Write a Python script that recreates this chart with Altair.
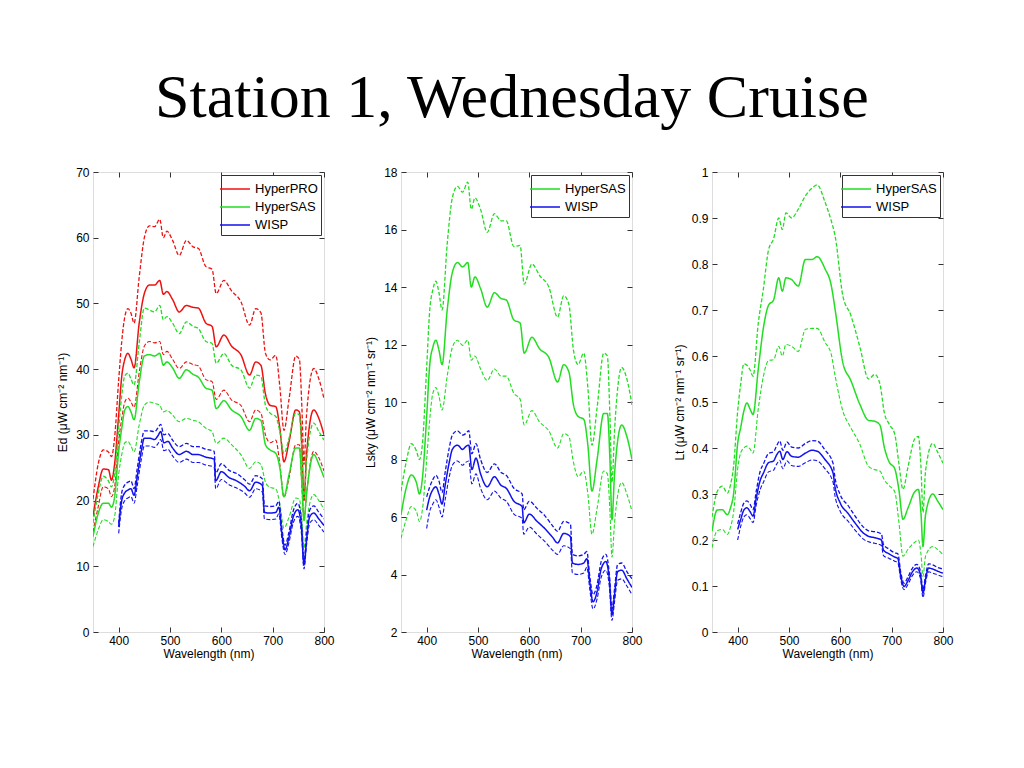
import altair as alt
import pandas as pd

TITLE = "Station 1, Wednesday Cruise"

# Wavelength grids (nm)
WL = [350, 360, 370, 380, 386, 392, 400, 406, 412, 418, 424, 430, 440, 450, 460, 470, 480, 487, 494, 505,
      518, 532, 545, 555, 570, 582, 590, 605, 620, 638, 655, 667, 677, 686, 695, 706, 714, 722, 732, 745,
      752, 757, 761, 766, 780, 790, 800]
WLW = [400, 406, 412, 418, 424, 430, 436, 444, 450, 460, 470, 476, 482, 488, 496, 505, 518, 532, 545, 555,
       570, 586, 589, 600, 615, 630, 645, 655, 667, 680, 684, 695, 706, 712, 718, 724, 732, 740, 749, 756,
       761, 766, 772, 780, 790, 800]

# ---- Panel 1: Ed ----
ed_pro_hi = [20.2, 25.5, 27.7, 27.4, 26.7, 29.5, 38.3, 44.2, 48.0, 49.2, 48.5, 47.0, 54.0, 60.0, 61.8, 61.7, 62.8, 60.0, 61.0, 59.6,
             57.3, 59.6, 58.6, 58.4, 55.6, 55.2, 51.5, 53.5, 51.9, 50.3, 46.7, 49.2, 48.6, 42.4, 41.4, 42.1, 37.3, 30.7, 35.5, 42.0,
             41.5, 34.0, 25.5, 33.0, 40.1, 38.5, 35.5]
ed_pro = [17.6, 22.0, 24.8, 24.7, 23.1, 25.5, 33.0, 38.9, 41.5, 42.4, 41.5, 40.2, 47.0, 51.5, 52.8, 52.8, 53.5, 51.4, 51.8, 50.6,
          48.7, 49.7, 49.4, 49.3, 47.0, 46.5, 43.4, 45.2, 43.5, 42.2, 39.1, 41.1, 40.6, 36.2, 34.5, 34.3, 31.0, 25.9, 29.0, 33.8,
          33.5, 28.0, 20.0, 27.0, 33.8, 32.5, 30.0]
ed_pro_lo = [15.2, 19.0, 22.1, 21.8, 20.6, 22.0, 29.0, 32.5, 35.0, 35.6, 35.0, 34.2, 39.5, 43.5, 44.2, 44.0, 44.2, 42.2, 42.7, 41.5,
             40.1, 41.1, 40.7, 40.5, 38.4, 38.1, 35.4, 36.8, 35.3, 34.5, 32.0, 33.8, 33.3, 30.0, 28.8, 29.2, 25.5, 20.5, 23.5, 28.5,
             28.5, 22.0, 17.0, 21.0, 27.5, 26.5, 24.5]
ed_sas_hi = [16.6, 21.0, 23.7, 23.0, 22.1, 24.0, 31.0, 36.0, 39.0, 39.4, 38.5, 37.6, 44.0, 49.3, 49.0, 48.7, 49.7, 47.5, 48.0, 47.0,
             45.4, 47.2, 46.5, 46.2, 44.2, 43.9, 40.9, 42.4, 40.6, 39.9, 37.1, 39.1, 38.9, 34.5, 33.3, 32.8, 30.5, 27.2, 29.5, 33.3,
             33.0, 27.0, 20.3, 26.0, 31.8, 30.5, 29.2]
ed_sas = [14.5, 18.0, 19.6, 19.6, 19.0, 20.5, 27.5, 31.0, 33.8, 34.3, 33.5, 32.3, 38.0, 42.0, 42.2, 42.0, 42.4, 40.6, 41.1, 40.2,
          38.6, 39.9, 39.2, 38.8, 37.1, 36.8, 34.0, 35.2, 33.8, 32.8, 30.7, 32.5, 32.2, 28.5, 27.7, 27.2, 25.0, 20.6, 24.0, 28.0,
          28.0, 22.5, 17.0, 21.0, 27.0, 25.5, 23.5]
ed_sas_lo = [13.0, 15.5, 17.1, 16.8, 16.4, 17.5, 24.0, 27.0, 28.8, 29.0, 28.3, 27.4, 31.5, 34.5, 35.0, 34.8, 34.5, 33.5, 33.7, 33.0,
             32.0, 32.5, 32.2, 32.0, 31.0, 30.5, 28.7, 29.5, 28.5, 27.0, 24.9, 25.9, 25.5, 22.8, 22.0, 21.8, 19.5, 15.8, 17.5, 20.4,
             20.2, 17.0, 12.8, 16.5, 20.9, 20.0, 18.6]
ed_wisp_hi = [16.5, 21.2, 22.4, 22.8, 23.0, 21.8, 24.8, 28.8, 30.6, 30.6, 30.5, 31.0, 31.6, 30.0, 30.2, 29.2, 28.2, 28.7, 28.2, 28.2,
              27.8, 27.5, 24.2, 25.6, 24.6, 24.1, 23.2, 22.5, 23.8, 23.3, 19.2, 19.1, 19.2, 19.9, 15.8, 13.2, 15.3, 18.4, 19.6, 17.0,
              10.7, 14.8, 18.5, 19.2, 18.2, 17.2]
ed_wisp = [16.0, 20.0, 21.2, 21.6, 21.8, 20.8, 23.5, 27.5, 29.5, 29.5, 29.3, 29.8, 30.5, 28.8, 29.0, 28.0, 27.0, 27.5, 27.0, 27.0,
           26.6, 26.3, 23.0, 24.4, 23.5, 23.0, 22.2, 21.5, 22.8, 22.3, 18.2, 18.1, 18.2, 19.0, 15.0, 12.5, 14.5, 17.5, 18.6, 16.0,
           10.2, 14.0, 17.5, 18.1, 17.2, 16.2]
ed_wisp_lo = [15.0, 18.8, 20.0, 20.4, 20.6, 19.6, 22.2, 26.2, 28.3, 28.3, 28.1, 28.6, 29.3, 27.6, 27.8, 26.8, 25.8, 26.3, 25.8, 25.8,
              25.4, 25.1, 21.8, 23.2, 22.4, 21.9, 21.2, 20.5, 21.8, 21.3, 17.2, 17.1, 17.2, 18.0, 14.2, 11.8, 13.7, 16.6, 17.6, 15.0,
              9.6, 13.2, 16.5, 17.1, 16.2, 15.2]

# ---- Panel 2: Lsky ----
lsky_sas_hi = [6.9, 7.9, 8.55, 8.3, 8.0, 8.6, 11.2, 13.2, 13.9, 14.2, 13.8, 13.2, 15.5, 17.1, 17.5, 17.3, 17.65, 16.7, 17.1, 16.7,
               15.9, 16.55, 16.3, 16.3, 15.4, 15.45, 14.1, 14.8, 14.4, 14.0, 12.95, 13.7, 13.4, 11.8, 11.3, 11.7, 10.5, 8.5, 9.8, 11.7,
               11.6, 9.5, 7.2, 9.0, 11.2, 10.8, 9.9]
lsky_sas = [6.07, 7.0, 7.46, 7.2, 6.8, 7.4, 9.5, 11.3, 11.9, 12.15, 11.8, 11.3, 13.2, 14.5, 14.85, 14.7, 14.85, 14.0, 14.35, 13.95,
            13.3, 13.8, 13.6, 13.55, 12.85, 12.75, 11.7, 12.25, 11.85, 11.55, 10.7, 11.3, 11.05, 9.9, 9.5, 9.4, 8.5, 6.9, 8.0, 9.6,
            9.6, 8.0, 5.9, 7.5, 9.2, 8.8, 8.0]
lsky_sas_lo = [5.26, 5.9, 6.36, 6.2, 5.84, 6.3, 8.0, 9.4, 10.3, 10.5, 10.2, 9.72, 10.9, 11.9, 12.15, 11.97, 12.15, 11.45, 11.6, 11.15,
               10.75, 11.15, 10.9, 10.9, 10.3, 10.1, 9.2, 9.7, 9.3, 9.0, 8.4, 8.9, 8.8, 7.9, 7.4, 7.6, 6.8, 5.4, 6.3, 7.6,
               7.5, 6.2, 4.6, 5.8, 7.2, 6.8, 6.2]
lsky_wisp_hi = [6.7, 7.05, 7.3, 7.45, 7.25, 6.85, 7.55, 8.4, 8.85, 9.0, 8.85, 8.9, 9.0, 8.2, 8.55, 8.0, 7.55, 7.85, 7.55, 7.45,
                7.0, 6.8, 6.25, 6.55, 6.3, 6.05, 5.7, 5.5, 5.85, 5.75, 4.7, 4.65, 4.7, 4.8, 3.9, 3.3, 3.65, 4.45, 4.7, 4.0,
                2.8, 3.5, 4.35, 4.4, 4.1, 3.85]
lsky_wisp = [6.24, 6.7, 6.95, 7.05, 6.8, 6.45, 7.1, 7.9, 8.35, 8.5, 8.35, 8.45, 8.5, 7.65, 8.05, 7.5, 7.05, 7.4, 7.1, 7.0,
             6.55, 6.36, 5.8, 6.1, 5.85, 5.6, 5.3, 5.1, 5.43, 5.32, 4.4, 4.35, 4.4, 4.55, 3.7, 3.05, 3.4, 4.2, 4.45, 3.8,
             2.6, 3.3, 4.1, 4.15, 3.85, 3.55]
lsky_wisp_lo = [5.6, 6.2, 6.45, 6.6, 6.35, 6.0, 6.6, 7.4, 7.8, 7.95, 7.8, 7.9, 7.95, 7.15, 7.5, 7.0, 6.6, 6.9, 6.65, 6.55,
                6.1, 5.95, 5.4, 5.65, 5.4, 5.15, 4.85, 4.7, 5.0, 4.9, 4.05, 4.0, 4.05, 4.25, 3.45, 2.8, 3.15, 3.9, 4.15, 3.55,
                2.4, 3.05, 3.8, 3.85, 3.6, 3.3]

# ---- Panel 3: Lt ----
lt_sas_hi = [0.25, 0.305, 0.317, 0.302, 0.32, 0.36, 0.48, 0.54, 0.583, 0.58, 0.57, 0.556, 0.67, 0.745, 0.83, 0.855, 0.9, 0.875, 0.911, 0.9,
             0.919, 0.948, 0.965, 0.972, 0.935, 0.895, 0.86, 0.73, 0.69, 0.62, 0.55, 0.56, 0.54, 0.475, 0.452, 0.43, 0.367, 0.31, 0.36, 0.42,
             0.425, 0.36, 0.26, 0.35, 0.41, 0.39, 0.367]
lt_sas = [0.219, 0.265, 0.266, 0.255, 0.27, 0.3, 0.41, 0.445, 0.48, 0.498, 0.485, 0.473, 0.57, 0.66, 0.71, 0.722, 0.77, 0.741, 0.77, 0.766,
          0.752, 0.81, 0.81, 0.816, 0.79, 0.755, 0.7, 0.585, 0.548, 0.495, 0.46, 0.458, 0.45, 0.4, 0.37, 0.355, 0.31, 0.245, 0.27, 0.305,
          0.31, 0.26, 0.186, 0.255, 0.3, 0.284, 0.266]
lt_sas_lo = [0.183, 0.22, 0.223, 0.212, 0.228, 0.26, 0.355, 0.39, 0.4, 0.404, 0.398, 0.389, 0.484, 0.555, 0.59, 0.592, 0.621, 0.6, 0.625, 0.621,
             0.61, 0.658, 0.66, 0.66, 0.63, 0.605, 0.556, 0.48, 0.445, 0.408, 0.36, 0.353, 0.35, 0.33, 0.318, 0.305, 0.24, 0.165, 0.18, 0.195,
             0.2, 0.17, 0.121, 0.165, 0.186, 0.179, 0.168]
lt_wisp_hi = [0.235, 0.26, 0.28, 0.285, 0.278, 0.266, 0.305, 0.35, 0.365, 0.388, 0.392, 0.405, 0.415, 0.395, 0.413, 0.402, 0.4, 0.41, 0.416, 0.415,
              0.396, 0.366, 0.34, 0.298, 0.275, 0.25, 0.228, 0.22, 0.218, 0.213, 0.19, 0.18, 0.172, 0.17, 0.128, 0.106, 0.12, 0.138, 0.147, 0.133,
              0.092, 0.123, 0.148, 0.146, 0.14, 0.137]
lt_wisp = [0.223, 0.245, 0.265, 0.27, 0.262, 0.252, 0.29, 0.33, 0.345, 0.368, 0.372, 0.385, 0.393, 0.375, 0.392, 0.382, 0.38, 0.389, 0.395, 0.393,
           0.375, 0.345, 0.32, 0.28, 0.258, 0.235, 0.215, 0.208, 0.205, 0.2, 0.178, 0.17, 0.163, 0.16, 0.12, 0.099, 0.112, 0.13, 0.139, 0.125,
           0.085, 0.115, 0.139, 0.137, 0.132, 0.128]
lt_wisp_lo = [0.2, 0.23, 0.25, 0.255, 0.247, 0.238, 0.275, 0.31, 0.325, 0.348, 0.352, 0.365, 0.373, 0.355, 0.372, 0.362, 0.36, 0.368, 0.374, 0.372,
              0.355, 0.325, 0.3, 0.262, 0.241, 0.22, 0.202, 0.196, 0.193, 0.188, 0.166, 0.16, 0.154, 0.15, 0.112, 0.092, 0.104, 0.122, 0.131, 0.117,
              0.075, 0.107, 0.131, 0.128, 0.124, 0.12]

COLORS = {"HyperPRO": "#ee1111", "HyperSAS": "#22dd22", "WISP": "#1111ee"}
FONT = "Liberation Sans"


def frame(wl, vals, inst, stat):
    return pd.DataFrame({"wl": wl, "v": vals, "inst": inst, "stat": stat,
                         "series": inst + "-" + stat})


def axis_common(**kw):
    base = dict(grid=False, domain=False, offset=-5, tickSize=5, tickColor="#333333", tickWidth=1,
                labelFont=FONT, labelFontSize=12, labelColor="black", titleFont=FONT,
                titleFontSize=12, titleFontWeight="normal", titleColor="black")
    base.update(kw)
    return alt.Axis(**base)


def panel(frames, insts, ydom, yvals, ytitle, tpad):
    df = pd.concat(frames, ignore_index=True)
    xs = alt.Scale(domain=[350, 800], nice=False, zero=False)
    ys = alt.Scale(domain=ydom, nice=False, zero=False)
    xt = [400, 500, 600, 700, 800]
    lines = alt.Chart(df).mark_line(clip=True, interpolate="monotone").encode(
        x=alt.X("wl:Q", scale=xs, axis=axis_common(orient="bottom", values=xt, title="Wavelength (nm)",
                                                    labelPadding=3, titlePadding=2, labelFlush=False)),
        y=alt.Y("v:Q", scale=ys, axis=axis_common(orient="left", values=yvals, title=ytitle, format="~r",
                                                   labelPadding=4, titlePadding=tpad, labelFlush=False)),
        color=alt.Color("inst:N", scale=alt.Scale(domain=insts, range=[COLORS[i] for i in insts]),
                        legend=alt.Legend(title=None, orient="top-right", offset=3,
                                          symbolType="M-1.5,0L1.5,0",
                                          symbolSize=400, symbolStrokeWidth=1.5, labelFont=FONT,
                                          labelFontSize=13, labelColor="black", strokeColor="#333333",
                                          fillColor="white", padding=3, rowPadding=-3, labelOffset=9)),
        strokeDash=alt.StrokeDash("stat:N", scale=alt.Scale(domain=["mean", "hi", "lo"],
                                                             range=[[1, 0], [4, 2], [4, 2]]), legend=None),
        strokeWidth=alt.StrokeWidth("stat:N", scale=alt.Scale(domain=["mean", "hi", "lo"], range=[1.5, 1.1, 1.1]),
                                    legend=None),
        detail="series:N",
    )
    mirror = alt.Chart(df).mark_line(opacity=0).encode(
        x=alt.X("wl:Q", scale=xs, axis=axis_common(orient="top", values=xt, labels=False, title=None)),
        y=alt.Y("v:Q", scale=ys, axis=axis_common(orient="right", values=yvals, labels=False, title=None)),
        detail="series:N",
    )
    return alt.layer(lines, mirror).resolve_axis(x="independent", y="independent").properties(width=231, height=460)


p1 = panel([frame(WL, ed_pro, "HyperPRO", "mean"), frame(WL, ed_pro_hi, "HyperPRO", "hi"),
            frame(WL, ed_pro_lo, "HyperPRO", "lo"),
            frame(WL, ed_sas, "HyperSAS", "mean"), frame(WL, ed_sas_hi, "HyperSAS", "hi"),
            frame(WL, ed_sas_lo, "HyperSAS", "lo"),
            frame(WLW, ed_wisp, "WISP", "mean"), frame(WLW, ed_wisp_hi, "WISP", "hi"),
            frame(WLW, ed_wisp_lo, "WISP", "lo")],
           ["HyperPRO", "HyperSAS", "WISP"], [0, 70], list(range(0, 71, 10)),
           "Ed (\u03bcW cm\u207b\u00b2 nm\u207b\u00b9)", 6)
p2 = panel([frame(WL, lsky_sas, "HyperSAS", "mean"), frame(WL, lsky_sas_hi, "HyperSAS", "hi"),
            frame(WL, lsky_sas_lo, "HyperSAS", "lo"),
            frame(WLW, lsky_wisp, "WISP", "mean"), frame(WLW, lsky_wisp_hi, "WISP", "hi"),
            frame(WLW, lsky_wisp_lo, "WISP", "lo")],
           ["HyperSAS", "WISP"], [2, 18], list(range(2, 19, 2)),
           "Lsky (\u03bcW cm\u207b\u00b2 nm\u207b\u00b9 sr\u207b\u00b9)", 6)
p3 = panel([frame(WL, lt_sas, "HyperSAS", "mean"), frame(WL, lt_sas_hi, "HyperSAS", "hi"),
            frame(WL, lt_sas_lo, "HyperSAS", "lo"),
            frame(WLW, lt_wisp, "WISP", "mean"), frame(WLW, lt_wisp_hi, "WISP", "hi"),
            frame(WLW, lt_wisp_lo, "WISP", "lo")],
           ["HyperSAS", "WISP"], [0, 1], [round(i * 0.1, 1) for i in range(11)],
           "Lt (\u03bcW cm\u207b\u00b2 nm\u207b\u00b9 sr\u207b\u00b9)", 5)

chart = alt.hconcat(p1, p2, p3, spacing=29).resolve_scale(
    color="independent", strokeDash="independent", strokeWidth="independent"
).properties(
    title=alt.TitleParams(TITLE, font="Liberation Serif", fontSize=62, fontWeight="normal",
                          color="black", anchor="middle", offset=36, dx=7),
    padding={"top": 58, "left": 48, "right": 5, "bottom": 5},
).configure_view(stroke="#333333", strokeWidth=1).configure(background="white")

chart.save("out.html", embed_options={"renderer": "svg", "actions": False})
